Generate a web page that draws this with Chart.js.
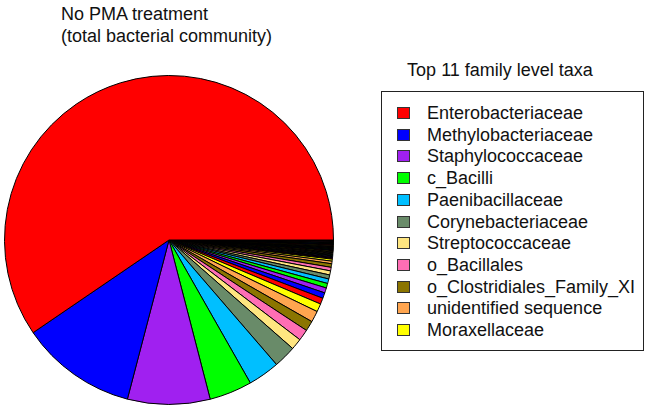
<!DOCTYPE html>
<html lang="en">
<head>
<meta charset="UTF-8">
<title>No PMA treatment</title>
<script src="https://cdn.jsdelivr.net/npm/chart.js@4.4.1/dist/chart.umd.min.js"></script>
<style>
	body { margin: 0; background: #fff; font-family: "Liberation Sans", Arial, sans-serif; color: #111; }
	#wrap { position: relative; width: 649px; height: 420px; overflow: hidden; }
	#titulo { position: absolute; left: 61px; top: 3px; font-size: 18px; line-height: 22px; }
	#pieBox { position: absolute; left: 4px; top: 75px; width: 330px; height: 330px; }
	#legTitulo { position: absolute; left: 382px; width: 236px; top: 60px; text-align: center; font-size: 18px; }
	#leyenda { position: absolute; left: 381px; top: 91px; width: 261px; height: 258px; border: 1.5px solid #222; }
	.fila { position: absolute; left: 0; height: 20px; line-height: 20px; font-size: 18px; white-space: nowrap; }
	.caja { position: absolute; left: 15px; top: 4px; width: 11px; height: 10px; border: 1.5px solid #333; }
	.txt { position: absolute; left: 45px; top: 0; }
</style>
</head>
<body>
<div id="wrap">
	<div id="titulo">No PMA treatment<br>(total bacterial community)</div>
	<div id="pieBox"><canvas id="pizarra"></canvas></div>
	<div id="legTitulo">Top 11 family level taxa</div>
	<div id="leyenda"></div>
</div>

<script>
	// top 11 taxa (legend), shares in %
	const taxa = ['Enterobacteriaceae', 'Methylobacteriaceae', 'Staphylococcaceae', 'c_Bacilli',
		'Paenibacillaceae', 'Corynebacteriaceae', 'Streptococcaceae', 'o_Bacillales',
		'o_Clostridiales_Family_XI', 'unidentified sequence', 'Moraxellaceae']
	const topShares = [59.5, 11.4, 8.1, 4.2, 3.1, 2.2, 1.1, 1.1, 1.0, 1.1, 0.8]
	// next taxa, colours start over
	const nextShares = [0.6, 0.55, 0.5, 0.45, 0.45, 0.4, 0.4, 0.35, 0.35, 0.25, 0.2]
	// long tail of very small taxa (looks black because of the borders)
	const tailShares = [0.09, 0.08, 0.08, 0.07, 0.07, 0.07, 0.06, 0.06, 0.06, 0.06,
		0.06, 0.06, 0.05, 0.05, 0.05, 0.05, 0.05, 0.05, 0.05, 0.05,
		0.05, 0.05, 0.05, 0.05, 0.04, 0.04, 0.04, 0.04, 0.04, 0.04,
		0.04, 0.04, 0.03, 0.03, 0.03, 0.03]
	const colores = ['#FF0000', '#0000FF', '#A020F0', '#00FF00', '#00BFFF', '#698B69',
		'#FFE680', '#FF6EB4', '#8B7500', '#FFA54F', '#FFFF00']

	let valores = topShares.concat(nextShares, tailShares)
	let etiquetas = valores.map((v, i) => i < taxa.length ? taxa[i] : 'other')
	let fondo = valores.map((v, i) => colores[i % colores.length])

	// R draws counter-clockwise from 3 o'clock, Chart.js goes clockwise: reverse
	valores = valores.slice().reverse()
	etiquetas = etiquetas.slice().reverse()
	fondo = fondo.slice().reverse()

	const g = document.getElementById('pizarra')
	const myChart = new Chart(g, {
		type: 'pie',
		data: {
			labels: etiquetas,
			datasets: [{
				data: valores,
				backgroundColor: fondo,
				borderColor: '#000',
				borderWidth: 1
			}]
		},
		options: {
			responsive: true,
			maintainAspectRatio: false,
			animation: false,
			rotation: 90,
			layout: { padding: 0 },
			plugins: { legend: { display: false }, tooltip: { enabled: false } }
		}
	})

	// legend
	const ley = document.getElementById('leyenda')
	taxa.forEach((t, i) => {
		const fila = document.createElement('div')
		fila.className = 'fila'
		fila.style.top = (11 + i * 21.7) + 'px'
		fila.innerHTML = '<div class="caja" style="background:' + colores[i] + '"></div><span class="txt">' + t + '</span>'
		ley.appendChild(fila)
	})
</script>
</body>
</html>
